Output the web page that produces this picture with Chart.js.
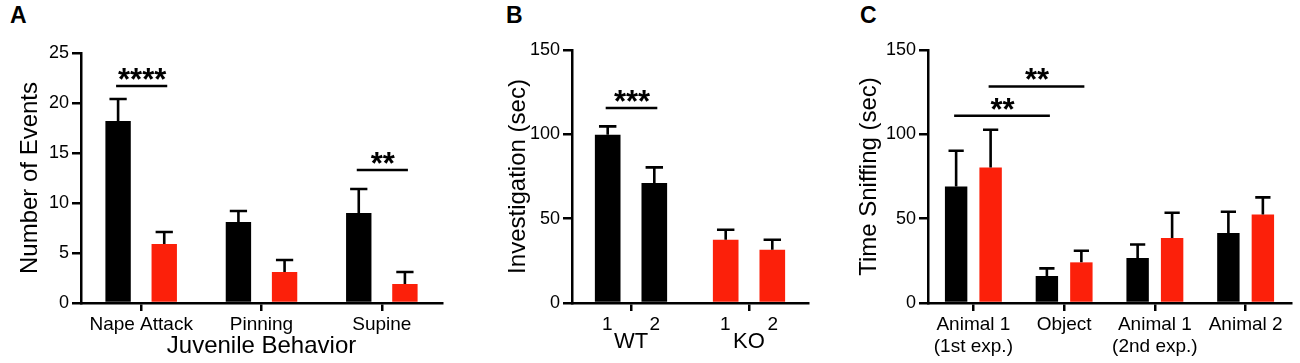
<!DOCTYPE html>
<html><head><meta charset="utf-8">
<script src="https://cdn.jsdelivr.net/npm/chart.js@4.4.1/dist/chart.umd.min.js"></script>
<style>
html,body{margin:0;padding:0;background:#fff;}
body{width:1300px;height:363px;position:relative;overflow:hidden;font-family:"Liberation Sans",Arial,sans-serif;}
.panel{position:absolute;top:0;height:363px;}
.lab{position:absolute;top:4px;font-weight:bold;font-size:23px;line-height:1;color:#000;}
</style></head><body>
<div class="lab" style="left:10px">A</div>
<div class="lab" style="left:506px">B</div>
<div class="lab" style="left:860px">C</div>
<div class="panel" style="left:0;width:450px"><canvas id="cA" width="450" height="363"></canvas></div>
<div class="panel" style="left:480px;width:340px"><canvas id="cB" width="340" height="363"></canvas></div>
<div class="panel" style="left:830px;width:470px"><canvas id="cC" width="470" height="363"></canvas></div>
<script>
// ---------- data ----------
const categoriesA = ['Nape Attack', 'Pinning', 'Supine'];
const wtA = [18.2, 8.1, 9.0];
const wtErrA = [2.2, 1.1, 2.4];
const koA = [5.9, 3.1, 1.9];
const koErrA = [1.2, 1.2, 1.2];
const ticksA = [0, 5, 10, 15, 20, 25];

const groupsB = ['WT', 'KO'];
const trialLabelsB = ['1', '2'];
const trial1B = [99.8, 37.5];
const trial1ErrB = [4.9, 5.9];
const trial2B = [71.1, 31.6];
const trial2ErrB = [9.3, 5.9];
const ticksB = [0, 50, 100, 150];

const categoriesC = [['Animal 1', '(1st exp.)'], 'Object', ['Animal 1', '(2nd exp.)'], 'Animal 2'];
const wtC = [69.1, 16.0, 26.7, 41.5];
const wtErrC = [21.2, 4.5, 8.0, 12.6];
const koC = [80.4, 24.1, 38.5, 52.5];
const koErrC = [22.3, 6.9, 15.0, 10.1];
const ticksC = [0, 50, 100, 150];

// significance: [datasetIndex, categoryIndex] pairs, y in data units
const sigA = [{from: [0, 0], to: [1, 0], y: 21.7, text: '****'}, {from: [0, 2], to: [1, 2], y: 13.3, text: '**'}];
const sigB = [{from: [0, 0], to: [1, 0], y: 115.6, text: '***'}];
const sigC = [{from: [0, 0], to: [0, 1], y: 111, text: '**'}, {from: [1, 0], to: [1, 1], y: 128.4, text: '**'}];

// ---------- styling ----------
const BLACK = '#000000';
const RED = 'rgb(252,32,10)';
Chart.defaults.font.family = '"Liberation Sans", Arial, Helvetica, sans-serif';
Chart.defaults.color = '#000';
Chart.defaults.animation = false;

const errPlugin = {
  id: 'errbars',
  afterDatasetsDraw(chart) {
    const ctx = chart.ctx, ys = chart.scales.y;
    chart.data.datasets.forEach((ds, di) => {
      const meta = chart.getDatasetMeta(di);
      meta.data.forEach((bar, i) => {
        const top = ys.getPixelForValue(ds.data[i] + ds.errors[i]);
        const half = bar.width * 0.34;
        ctx.save();
        ctx.strokeStyle = '#000';
        ctx.lineWidth = 2.6;
        ctx.beginPath();
        ctx.moveTo(bar.x, bar.y);
        ctx.lineTo(bar.x, top);
        ctx.moveTo(bar.x - half, top);
        ctx.lineTo(bar.x + half, top);
        ctx.stroke();
        ctx.restore();
      });
    });
  }
};
function sigPlugin(items) {
  return {
    id: 'sig',
    afterDatasetsDraw(chart) {
      const ctx = chart.ctx, ys = chart.scales.y;
      items.forEach(it => {
        const a = chart.getDatasetMeta(it.from[0]).data[it.from[1]];
        const b = chart.getDatasetMeta(it.to[0]).data[it.to[1]];
        const y = ys.getPixelForValue(it.y);
        ctx.save();
        ctx.strokeStyle = '#000';
        ctx.lineWidth = 2.5;
        ctx.beginPath();
        ctx.moveTo(a.x - 2, y);
        ctx.lineTo(b.x + 3, y);
        ctx.stroke();
        ctx.fillStyle = '#000';
        ctx.font = 'bold 31px "Liberation Sans", Arial, sans-serif';
        ctx.textAlign = 'center';
        ctx.textBaseline = 'alphabetic';
        ctx.fillText(it.text, (a.x + b.x) / 2 + 1, y + 4);
        ctx.restore();
      });
    }
  };
}

function yAxis(tickVals, width, title, titlePad) {
  return {
    min: tickVals[0], max: tickVals[tickVals.length - 1],
    afterBuildTicks: s => { s.ticks = tickVals.map(v => ({value: v})); },
    ticks: {font: {size: 18}, padding: 3, color: '#000'},
    grid: {display: true, drawOnChartArea: false, drawTicks: true, tickLength: 9, lineWidth: 2.5, color: '#000'},
    border: {display: true, width: 2.5, color: '#000'},
    title: {display: true, text: title, font: {size: 24}, padding: {top: titlePad, bottom: 0}, color: '#000'},
    afterFit: s => { s.width = width; }
  };
}
function xAxis(height, extra) {
  return Object.assign({
    type: 'category', offset: true, weight: 0,
    grid: {display: true, offset: false, drawOnChartArea: false, drawTicks: true, tickLength: 8, lineWidth: 2.5, color: '#000'},
    border: {display: true, width: 2.5, color: '#000'},
    ticks: {font: {size: 19, lineHeight: 1.2}, padding: 2, color: '#000', maxRotation: 0, minRotation: 0, autoSkip: false},
    afterFit: s => { s.height = height; }
  }, extra || {});
}
function baseOptions(scales, top, right) {
  return {
    responsive: false, animation: false,
    layout: {padding: {top: top, right: right, left: 0, bottom: 0}},
    plugins: {legend: {display: false}, tooltip: {enabled: false}},
    scales: scales
  };
}

// ---------- Panel A ----------
new Chart(document.getElementById('cA'), {
  type: 'bar',
  data: {
    labels: categoriesA,
    datasets: [
      {label: 'WT', data: wtA, errors: wtErrA, backgroundColor: BLACK, categoryPercentage: 0.767, barPercentage: 0.55},
      {label: 'KO', data: koA, errors: koErrA, backgroundColor: RED, categoryPercentage: 0.767, barPercentage: 0.55}
    ]
  },
  options: baseOptions({
    x: xAxis(60, {title: {display: true, text: 'Juvenile Behavior', font: {size: 24}, padding: {top: 0, bottom: 2}, color: '#000'}}),
    y: yAxis(ticksA, 81, 'Number of Events', 16)
  }, 53, 8),
  plugins: [errPlugin, sigPlugin(sigA)]
});

// ---------- Panel B ----------
new Chart(document.getElementById('cB'), {
  type: 'bar',
  data: {
    labels: groupsB,
    datasets: [
      {label: trialLabelsB[0], data: trial1B, errors: trial1ErrB, backgroundColor: [BLACK, RED], categoryPercentage: 0.79, barPercentage: 0.55},
      {label: trialLabelsB[1], data: trial2B, errors: trial2ErrB, backgroundColor: [BLACK, RED], categoryPercentage: 0.79, barPercentage: 0.55}
    ]
  },
  options: baseOptions({
    x: xAxis(30, {ticks: {font: {size: 19}, padding: 2, color: '#000', maxRotation: 0, autoSkip: false,
      callback: () => trialLabelsB.join('       ')}}),
    x2: {type: 'category', position: 'bottom', offset: true, weight: 1,
      grid: {display: false, drawTicks: false}, border: {display: false},
      ticks: {font: {size: 22}, padding: -4, color: '#000', maxRotation: 0, autoSkip: false},
      afterFit: s => { s.height = 30; }},
    y: yAxis(ticksB, 92, 'Investigation (sec)', 24)
  }, 50, 12),
  plugins: [errPlugin, sigPlugin(sigB)]
});

// ---------- Panel C ----------
new Chart(document.getElementById('cC'), {
  type: 'bar',
  data: {
    labels: categoriesC,
    datasets: [
      {label: 'WT', data: wtC, errors: wtErrC, backgroundColor: BLACK, categoryPercentage: 0.76, barPercentage: 0.65},
      {label: 'KO', data: koC, errors: koErrC, backgroundColor: RED, categoryPercentage: 0.76, barPercentage: 0.65}
    ]
  },
  options: baseOptions({
    x: xAxis(60),
    y: yAxis(ticksC, 98, 'Time Sniffing (sec)', 25)
  }, 50, 9),
  plugins: [errPlugin, sigPlugin(sigC)]
});
</script>
</body></html>
